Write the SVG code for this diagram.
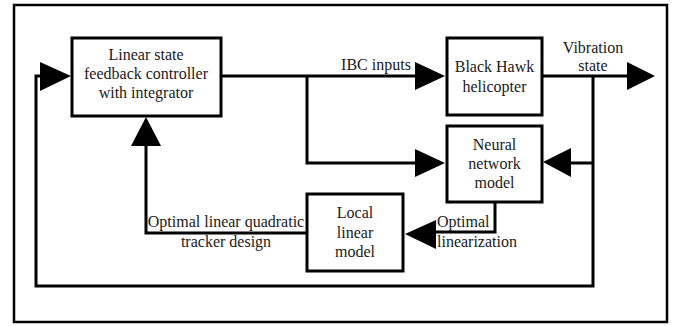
<svg xmlns="http://www.w3.org/2000/svg" width="675" height="326" viewBox="0 0 675 326">
<style>
.box{fill:#fff;stroke:#000;stroke-width:3}
.ln{fill:none;stroke:#000;stroke-width:3}
.ah{fill:#000;stroke:none}
.t{font-family:'Liberation Serif','DejaVu Serif',serif;font-size:16px;fill:#1a1a1a}
.c{text-anchor:middle}
</style>
<rect x="0" y="0" width="675" height="326" fill="#fff"/>
<rect x="14" y="5" width="653" height="317" fill="none" stroke="#000" stroke-width="2.5"/>
<g id="connectors">
<polyline class="ln" points="221,76 418,76"/>
<polyline class="ln" points="307,76 307,163 418,163"/>
<polyline class="ln" points="542,76 628,76"/>
<polyline class="ln" points="593,76 593,286 36,286 36,76 42,76"/>
<polyline class="ln" points="593,163 570,163"/>
<polyline class="ln" points="495,202 495,232 435,232"/>
<polyline class="ln" points="307,233 146,233 146,144"/>
<polygon class="ah" points="445,76 415,62 415,90"/>
<polygon class="ah" points="445,163 415,149 415,177"/>
<polygon class="ah" points="655,76 627,62 627,90"/>
<polygon class="ah" points="71,76 40,62 40,91"/>
<polygon class="ah" points="543,162 571,148 571,177"/>
<polygon class="ah" points="405,234 436,220 436,249"/>
<polygon class="ah" points="146,117 131,146 161,146"/>
</g>
<g class="t" font-family="Liberation Serif, DejaVu Serif, serif">
<g id="controller">
<rect class="box" x="72" y="38" width="149" height="78"/>
<text class="c" x="146" y="60">Linear state</text>
<text class="c" x="146" y="79">feedback controller</text>
<text class="c" x="146" y="98">with integrator</text>
</g>
<g id="helicopter">
<rect class="box" x="447" y="38" width="95" height="77"/>
<text class="c" x="494.5" y="72">Black Hawk</text>
<text class="c" x="494.5" y="92">helicopter</text>
</g>
<g id="neural">
<rect class="box" x="447" y="126" width="95" height="76"/>
<text class="c" x="494.5" y="150">Neural</text>
<text class="c" x="494.5" y="169">network</text>
<text class="c" x="494.5" y="188">model</text>
</g>
<g id="local">
<rect class="box" x="307" y="194" width="96" height="77"/>
<text class="c" x="355" y="218">Local</text>
<text class="c" x="355" y="238">linear</text>
<text class="c" x="355" y="257">model</text>
</g>
<g id="labels">
<text class="c" x="376" y="70">IBC inputs</text>
<text class="c" x="593" y="53">Vibration</text>
<text class="c" x="593" y="71">state</text>
<text x="437" y="227">Optimal</text>
<text x="437" y="247">linearization</text>
<text class="c" x="226" y="227">Optimal linear quadratic</text>
<text class="c" x="226" y="247">tracker design</text>
</g>
</g>
</svg>
